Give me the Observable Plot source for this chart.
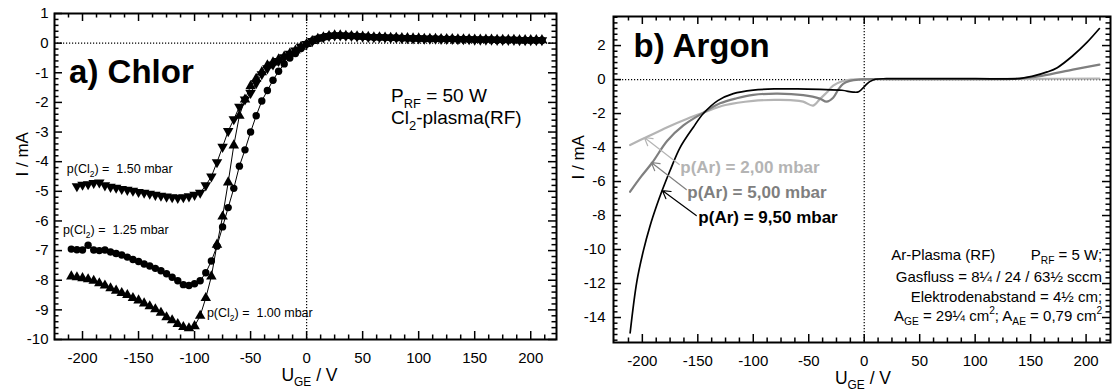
<!DOCTYPE html>
<html><head><meta charset="utf-8">
<script src="https://cdn.jsdelivr.net/npm/d3@7"></script>
<script src="https://cdn.jsdelivr.net/npm/@observablehq/plot@0.6"></script>
<style>
body{margin:0;background:#fff;}
#wrap{position:relative;width:1117px;height:391px;font-family:"Liberation Sans",Arial,sans-serif;}
#a{position:absolute;left:0;top:0}
#b{position:absolute;left:560px;top:0}
svg text{white-space:pre;}
</style></head><body><div id="wrap"><div id="a"></div><div id="b"></div></div>
<script>
// ---------- Chart a) Chlor ----------
const u150 = [-205,-200,-195,-190,-185,-180,-175,-170,-165,-160,-155,-150,-145,-140,-135,-130,-125,-120,-115,-110,-105,-100,-95,-90,-85,-80,-75,-70,-65,-60,-55,-50,-45,-40,-35,-30,-25,-20,-15,-10,-5];
const i150 = [-4.83,-4.78,-4.76,-4.72,-4.70,-4.80,-4.85,-4.88,-4.92,-4.95,-4.98,-5.02,-5.05,-5.08,-5.12,-5.15,-5.18,-5.20,-5.22,-5.20,-5.17,-5.12,-5.05,-4.80,-4.50,-4.02,-3.50,-2.97,-2.57,-2.15,-1.90,-1.68,-1.35,-1.05,-0.85,-0.72,-0.60,-0.48,-0.36,-0.25,-0.12];
const u125 = [-210,-205,-200,-195,-190,-185,-180,-175,-170,-165,-160,-155,-150,-145,-140,-135,-130,-125,-120,-115,-110,-105,-100,-95,-90,-85,-80,-75,-70,-65,-60,-55,-50,-45,-40,-35,-30,-25,-20,-15,-10,-5];
const i125 = [-6.95,-6.97,-6.98,-6.82,-6.98,-7.00,-6.98,-7.05,-7.10,-7.15,-7.22,-7.30,-7.37,-7.45,-7.52,-7.60,-7.68,-7.78,-7.90,-8.02,-8.15,-8.18,-8.12,-8.02,-7.75,-7.35,-6.85,-6.20,-5.55,-4.90,-4.15,-3.60,-3.00,-2.45,-1.95,-1.60,-1.25,-0.95,-0.70,-0.50,-0.35,-0.18];
const u100 = [-210,-205,-200,-195,-190,-185,-180,-175,-170,-165,-160,-155,-150,-145,-140,-135,-130,-125,-120,-115,-110,-105,-100,-95,-90,-85,-80,-75,-70,-65,-60,-55,-50,-45,-40,-35,-30,-25,-20,-15,-10,-5];
const i100 = [-7.87,-7.90,-7.93,-7.97,-8.02,-8.10,-8.18,-8.27,-8.35,-8.43,-8.50,-8.60,-8.68,-8.78,-8.88,-8.98,-9.10,-9.25,-9.35,-9.48,-9.58,-9.62,-9.55,-9.20,-8.60,-7.87,-6.80,-5.85,-4.70,-3.45,-2.45,-1.90,-1.45,-1.20,-0.98,-0.75,-0.65,-0.55,-0.45,-0.35,-0.25,-0.12];
// common part (U >= 0) where the three measurements coincide
const uTail = [0,5,10,15,20,25,30,35,40,45,50,55,60,65,70,75,80,85,90,95,100,105,110,115,120,125,130,135,140,145,150,155,160,165,170,175,180,185,190,195,200,205,210];
const iTail = [-0.03,0.07,0.15,0.20,0.24,0.26,0.26,0.25,0.24,0.23,0.22,0.21,0.20,0.20,0.19,0.18,0.18,0.17,0.17,0.16,0.16,0.15,0.15,0.15,0.14,0.14,0.14,0.13,0.13,0.13,0.12,0.12,0.12,0.12,0.11,0.11,0.11,0.11,0.10,0.10,0.10,0.10,0.10];

const xTicks = [-200,-150,-100,-50,0,50,100,150,200];
const yTicksA = [1,0,-1,-2,-3,-4,-5,-6,-7,-8,-9,-10];
const yTicksB = [2,0,-2,-4,-6,-8,-10,-12,-14];

const labA_text = ["p(Cl_{2}) =  1.50 mbar","p(Cl_{2}) =  1.25 mbar","p(Cl_{2}) =  1.00 mbar"];
const labA_u = [-214,-217.5,-89];
const labA_i = [-4.26,-6.32,-9.12];
const infoA_text = ["P_{RF} = 50 W","Cl_{2}-plasma(RF)"];
const infoA_u = [75.3,75.3];
const infoA_i = [-1.79,-2.53];
const titleA = ["a) Chlor"], titleA_u = [-212], titleA_i = [-0.99];

// ---------- Chart b) Argon ----------
const u950 = [-211,-205,-199,-193,-187,-182,-175,-166,-154,-145,-132,-118,-100,-80,-60,-40,-20,-10,-5,1,5,10,20,50,100,140,152,165,174,188,201,212];
const i950 = [-14.9,-11.9,-10.05,-8.6,-7.4,-6.5,-5.35,-4.0,-2.8,-2.0,-1.24,-0.83,-0.62,-0.55,-0.55,-0.58,-0.63,-0.74,-0.72,-0.35,-0.12,0.02,0.05,0.05,0.05,0.06,0.2,0.45,0.7,1.4,2.2,3.0];
const u500 = [-211,-201,-191,-177.5,-163,-145,-130,-115,-100,-78,-55,-40,-34,-28,-23,-19,-13,-5,20,100,138,160,188,212];
const i500 = [-6.6,-5.7,-4.88,-3.6,-2.7,-1.95,-1.4,-1.1,-0.9,-0.83,-0.92,-1.12,-1.3,-1.07,-0.55,-0.25,-0.08,0,0.02,0.02,0.05,0.22,0.58,0.88];
const u200 = [-211,-197,-177.5,-159.5,-145,-125,-100,-80,-64,-55,-46,-40,-34,-28,-20,-12,50,150,212];
const i200 = [-3.85,-3.41,-2.8,-2.3,-1.95,-1.5,-1.25,-1.2,-1.22,-1.3,-1.53,-1.15,-0.78,-0.36,-0.1,0,0.02,0.04,0.06];

const arNames = ["p(Ar) = 2,00 mbar","p(Ar) = 5,00 mbar","p(Ar) = 9,50 mbar"];
const arColors = ["#b4b4b4","#7f7f7f","#000000"];
const arLab_u = [-165.8,-159.5,-149.5];
const arLab_i = [-5.15,-6.62,-8.1];
const arTail_u = [-166.7,-160.4,-151.4];
const arTail_i = [-5.0,-6.47,-8.0];
const arTip_u = [-198.2,-191.9,-182];
const arTip_i = [-3.41,-4.88,-6.53];
const titleB = ["b) Argon"], titleB_u = [-208], titleB_i = [1.92];
const infoB_end_text = ["P_{RF} = 5 W;","Gasfluss = 8¼ / 24 / 63½ sccm","Elektrodenabstand = 4½ cm;","A_{GE} = 29¼ cm^{2}; A_{AE} = 0,79 cm^{2}"];
const infoB_end_u = [214.4,214.4,214.4,214.4];
const infoB_end_i = [-10.31,-11.6,-12.78,-13.9];
const infoB_start_text = ["Ar-Plasma (RF)"];
const infoB_start_u = [24.3];
const infoB_start_i = [-10.31];

// ---------- helpers ----------
const rows = (us, is, extra={}) => us.map((u,k)=>({u, i:is[k], ...extra}));
const font = '"Liberation Sans", Arial, Helvetica, sans-serif';

function tickMarks(xDom, yDom, W, H, yMinorStep, yMajorStep){
  const isMajor = (v, s) => Math.abs(v/s - Math.round(v/s)) < 1e-6;
  const xMinor = d3.range(-212.5, xDom[1], 12.5).filter(v => v > xDom[0] && !isMajor(v,50));
  const yMinor = d3.range(Math.ceil(yDom[0]/yMinorStep)*yMinorStep, yDom[1]+1e-9, yMinorStep)
     .filter(v => v > yDom[0]+1e-6 && v < yDom[1]-1e-6 && !isMajor(v, yMajorStep));
  const yMajor = d3.range(Math.ceil(yDom[0]/yMajorStep)*yMajorStep, yDom[1]+1e-9, yMajorStep);
  const M = 8, m = 4.5, sw = 1.5;
  return [
    Plot.ruleX(xTicks, {x: d=>d, insetTop: H-M, strokeWidth: sw}),
    Plot.ruleX(xTicks, {x: d=>d, insetBottom: H-M, strokeWidth: sw}),
    Plot.ruleX(xMinor, {x: d=>d, insetTop: H-m, strokeWidth: sw}),
    Plot.ruleX(xMinor, {x: d=>d, insetBottom: H-m, strokeWidth: sw}),
    Plot.ruleY(yMajor, {y: d=>d, insetRight: W-M, strokeWidth: sw}),
    Plot.ruleY(yMajor, {y: d=>d, insetLeft: W-M, strokeWidth: sw}),
    Plot.ruleY(yMinor, {y: d=>d, insetRight: W-m, strokeWidth: sw}),
    Plot.ruleY(yMinor, {y: d=>d, insetLeft: W-m, strokeWidth: sw})
  ];
}

function richify(root){
  root.querySelectorAll("text").forEach(t=>{
    const s = t.textContent;
    if(!/[_^]\{/.test(s)) return;
    const fs = parseFloat(getComputedStyle(t).fontSize);
    const re = /([_^])\{([^}]*)\}/g;
    const parts = []; let last = 0, m;
    while((m = re.exec(s))){
      if(m.index > last) parts.push({k:"n", s:s.slice(last, m.index)});
      parts.push({k: m[1]==="_" ? "sub" : "sup", s:m[2]});
      last = re.lastIndex;
    }
    if(last < s.length) parts.push({k:"n", s:s.slice(last)});
    while(t.firstChild) t.removeChild(t.firstChild);
    let cur = 0;
    parts.forEach(p=>{
      const ts = document.createElementNS("http://www.w3.org/2000/svg","tspan");
      const target = p.k==="sub" ? 0.3*fs : p.k==="sup" ? -0.42*fs : 0;
      if(target !== cur){ ts.setAttribute("dy", (target-cur).toFixed(2)); cur = target; }
      if(p.k !== "n") ts.setAttribute("font-size", (0.68*fs).toFixed(2));
      ts.textContent = p.s;
      t.appendChild(ts);
    });
  });
}

// ---------- Plot a ----------
const WA = 560, mLA = 54, mRA = 4, mTA = 13, mBA = 52;
const xDomA = [-225, 223], yDomA = [-10, 1];
const r150 = rows(u150, i150).concat(rows(uTail, iTail));
const r125 = rows(u125, i125).concat(rows(uTail, iTail));
const r100 = rows(u100, i100).concat(rows(uTail, iTail));

const plotA = Plot.plot({
  width: WA, height: 391,
  marginLeft: mLA, marginRight: mRA, marginTop: mTA, marginBottom: mBA,
  x: {domain: xDomA}, y: {domain: yDomA},
  style: {fontFamily: font, fontSize: "15px", color: "black", background: "white", overflow: "visible"},
  marks: [
    Plot.ruleY([0], {strokeDasharray: "1.2,1.8", strokeWidth: 1.2}),
    Plot.ruleX([0], {strokeDasharray: "1.2,1.8", strokeWidth: 1.2}),
    ...tickMarks(xDomA, yDomA, WA-mLA-mRA, 391-mTA-mBA, 0.2, 1),
    Plot.frame({strokeWidth: 2}),
    Plot.axisX({ticks: xTicks, tickSize: 0, tickPadding: 13, tickFormat: d=>String(d), label: null, fontSize: 15}),
    Plot.axisY({ticks: yTicksA, tickSize: 0, tickPadding: 6, tickFormat: d=>String(d), label: null, fontSize: 15}),
    Plot.line(r150, {x:"u", y:"i", stroke:"black", strokeWidth:1}),
    Plot.line(r125, {x:"u", y:"i", stroke:"black", strokeWidth:1}),
    Plot.line(r100, {x:"u", y:"i", stroke:"black", strokeWidth:1}),
    Plot.dot(r150, {x:"u", y:"i", symbol:"triangle", rotate:180, fill:"black", r:3.9}),
    Plot.dot(r125, {x:"u", y:"i", symbol:"circle", fill:"black", r:3.7}),
    Plot.dot(r100, {x:"u", y:"i", symbol:"triangle", fill:"black", r:3.9}),
    Plot.text(titleA, {x: (d,k)=>titleA_u[k], y: (d,k)=>titleA_i[k], text: d=>d, textAnchor:"start", fontSize:33, fontWeight:"bold"}),
    Plot.text(labA_text, {x: (d,k)=>labA_u[k], y: (d,k)=>labA_i[k], text: d=>d, textAnchor:"start", fontSize:12.5}),
    Plot.text(infoA_text, {x: (d,k)=>infoA_u[k], y: (d,k)=>infoA_i[k], text: d=>d, textAnchor:"start", fontSize:19}),
    Plot.text(["I / mA"], {text: d=>d, frameAnchor:"left", rotate:-90, dx:-32, fontSize:17}),
    Plot.text(["U_{GE} / V"], {text: d=>d, frameAnchor:"bottom", dy:41.5, dx:4, fontSize:17.5})
  ]
});
document.getElementById("a").appendChild(plotA);
richify(plotA);

// ---------- Plot b ----------
const WB = 557, mLB = 53, mRB = 7, mTB = 16, mBB = 49;
const xDomB = [-226, 222], yDomB = [-15.47, 3.71];
const lines = [rows(u200, i200, {c:0}), rows(u500, i500, {c:1}), rows(u950, i950, {c:2})];
const arrows = arNames.map((n,k)=>({n, c:arColors[k], x1:arTail_u[k], y1:arTail_i[k], x2:arTip_u[k], y2:arTip_i[k], lu:arLab_u[k], li:arLab_i[k]}));

const plotB = Plot.plot({
  width: WB, height: 391,
  marginLeft: mLB, marginRight: mRB, marginTop: mTB, marginBottom: mBB,
  x: {domain: xDomB}, y: {domain: yDomB},
  style: {fontFamily: font, fontSize: "15px", color: "black", background: "white", overflow: "visible"},
  marks: [
    Plot.ruleY([0], {strokeDasharray: "1.2,1.8", strokeWidth: 1.2}),
    Plot.ruleX([0], {strokeDasharray: "1.2,1.8", strokeWidth: 1.2}),
    ...tickMarks(xDomB, yDomB, WB-mLB-mRB, 391-mTB-mBB, 1/3, 2),
    Plot.frame({strokeWidth: 2}),
    Plot.axisX({ticks: xTicks, tickSize: 0, tickPadding: 13, tickFormat: d=>String(d), label: null, fontSize: 15}),
    Plot.axisY({ticks: yTicksB, tickSize: 0, tickPadding: 8, tickFormat: d=>String(d), label: null, fontSize: 15}),
    Plot.line(lines[0], {x:"u", y:"i", stroke: arColors[0], strokeWidth: 2.2, curve:"catmull-rom"}),
    Plot.line(lines[1], {x:"u", y:"i", stroke: arColors[1], strokeWidth: 2.2, curve:"catmull-rom"}),
    Plot.line(lines[2], {x:"u", y:"i", stroke: arColors[2], strokeWidth: 1.7, curve:"catmull-rom"}),
    Plot.arrow(arrows, {x1:"x1", y1:"y1", x2:"x2", y2:"y2", stroke: d=>d.c, strokeWidth: 1.2, headLength: 11, headAngle: 60}),
    Plot.text(arrows, {x:"lu", y:"li", text:"n", fill: d=>d.c, textAnchor:"start", fontSize:17, fontWeight:"bold"}),
    Plot.text(titleB, {x: (d,k)=>titleB_u[k], y: (d,k)=>titleB_i[k], text: d=>d, textAnchor:"start", fontSize:33, fontWeight:"bold"}),
    Plot.text(infoB_end_text, {x: (d,k)=>infoB_end_u[k], y: (d,k)=>infoB_end_i[k], text: d=>d, textAnchor:"end", fontSize:15}),
    Plot.text(infoB_start_text, {x: (d,k)=>infoB_start_u[k], y: (d,k)=>infoB_start_i[k], text: d=>d, textAnchor:"start", fontSize:15}),
    Plot.text(["I / mA"], {text: d=>d, frameAnchor:"left", rotate:-90, dx:-35, fontSize:17}),
    Plot.text(["U_{GE} / V"], {text: d=>d, frameAnchor:"bottom", dy:41.5, dx:1, fontSize:17.5})
  ]
});
document.getElementById("b").appendChild(plotB);
richify(plotB);
</script>
</body></html>
